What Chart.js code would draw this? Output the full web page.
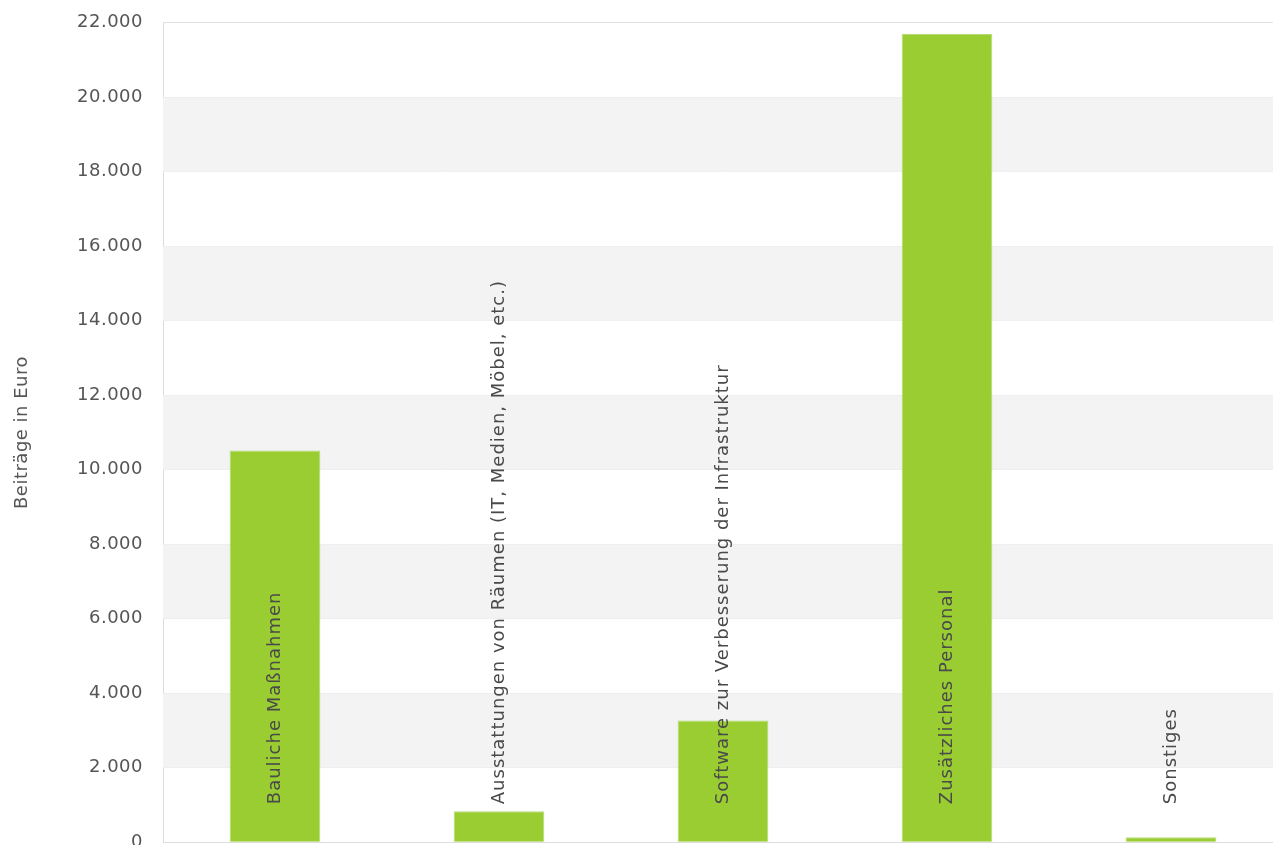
<!DOCTYPE html>
<html>
<head>
<meta charset="utf-8">
<script src="https://cdn.jsdelivr.net/npm/chart.js@4/dist/chart.umd.min.js"></script>
<style>
  html, body { margin: 0; padding: 0; background: #fff; overflow: hidden; }
  #wrap { width: 1283px; height: 881px; margin-top: -8px; position: relative; }
</style>
</head>
<body>
<div id="wrap"><canvas id="chart"></canvas></div>
<script>
const categories = [
  "Bauliche Maßnahmen",
  "Ausstattungen von Räumen (IT, Medien, Möbel, etc.)",
  "Software zur Verbesserung der Infrastruktur",
  "Zusätzliches Personal",
  "Sonstiges",
];
const beitraege = [10520, 830, 3270, 21700, 130];
const yTicks = [0, 2000, 4000, 6000, 8000, 10000, 12000, 14000, 16000, 18000, 20000, 22000];
const yTitle = "Beiträge in Euro";

const FONT = "'DejaVu Sans', sans-serif";

// the original text is slightly spaced out
const spacingPlugin = {
  id: "spacing",
  beforeUpdate(chart) { chart.ctx.letterSpacing = "0.5px"; },
  beforeDraw(chart) { chart.ctx.letterSpacing = "0.5px"; },
};

// alternating grey bands behind the bars
const bandPlugin = {
  id: "bands",
  beforeDatasetsDraw(chart) {
    const { ctx, chartArea, scales } = chart;
    ctx.save();
    ctx.fillStyle = "#f3f3f3";
    for (let i = 1; i < yTicks.length - 1; i += 2) {
      const yTop = scales.y.getPixelForValue(yTicks[i + 1]);
      const yBot = scales.y.getPixelForValue(yTicks[i]);
      ctx.fillRect(chartArea.left, yTop, chartArea.right - chartArea.left, yBot - yTop);
    }
    ctx.restore();
  },
};

// category names drawn vertically over the bars
const catLabelPlugin = {
  id: "catLabels",
  afterDatasetsDraw(chart) {
    const { ctx, scales } = chart;
    const base = scales.y.getPixelForValue(0) - 38;
    ctx.save();
    ctx.font = "18px " + FONT;
    ctx.letterSpacing = "1px";
    ctx.fillStyle = "#4a4a4a";
    ctx.textAlign = "left";
    ctx.textBaseline = "middle";
    categories.forEach((c, i) => {
      const x = scales.x.getPixelForValue(i);
      ctx.save();
      ctx.translate(x + 0.5, base);
      ctx.rotate(-Math.PI / 2);
      ctx.fillText(c, 0, 0);
      ctx.restore();
    });
    ctx.restore();
  },
};

new Chart(document.getElementById("chart"), {
  type: "bar",
  data: {
    labels: categories,
    datasets: [{
      data: beitraege,
      backgroundColor: "#9acd32",
      borderColor: "#b5dc72",
      borderWidth: 1,
      categoryPercentage: 1,
      barPercentage: 0.405,
    }],
  },
  options: {
    responsive: true,
    maintainAspectRatio: false,
    animation: false,
    layout: { padding: { top: 0, right: 0, bottom: 0, left: 0 } },
    plugins: { legend: { display: false }, tooltip: { enabled: false } },
    scales: {
      x: {
        ticks: { display: false },
        grid: { display: false, drawTicks: false },
        border: { display: true, color: "#dcdcdc" },
        afterFit: (s) => { s.height = 26; },
      },
      y: {
        min: 0,
        max: 22000,
        afterBuildTicks: (s) => { s.ticks = yTicks.map((v) => ({ value: v })); },
        ticks: {
          padding: 20,
          color: "#555",
          font: { family: FONT, size: 18 },
          callback: (v) => v.toLocaleString("de-DE"),
        },
        grid: { color: "#e2e2e2", drawTicks: false },
        border: { display: true, color: "#dcdcdc" },
        title: {
          display: true,
          text: yTitle,
          color: "#555",
          font: { family: FONT, size: 18 },
          padding: { top: 12, bottom: 0 },
        },
        afterFit: (s) => { s.width = 163; },
      },
    },
  },
  plugins: [spacingPlugin, bandPlugin, catLabelPlugin],
});
</script>
</body>
</html>
